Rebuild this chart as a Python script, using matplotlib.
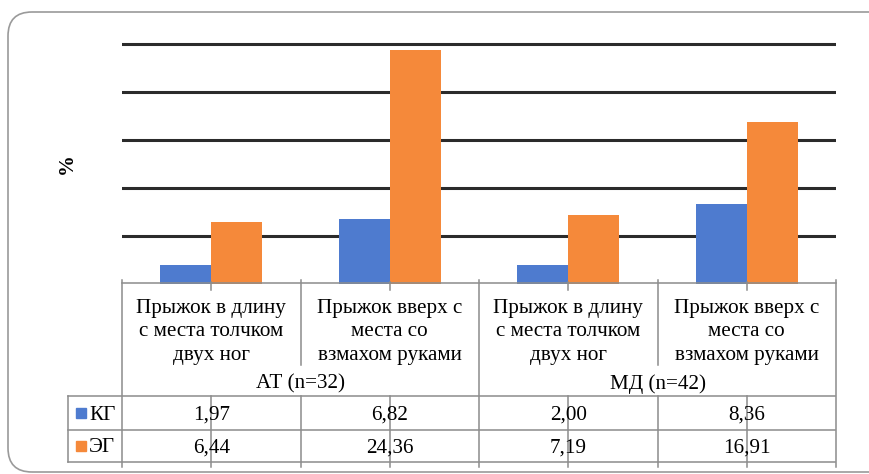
import numpy as np
import matplotlib.pyplot as plt
import matplotlib.transforms as mtransforms
from matplotlib.patches import FancyBboxPatch, Rectangle
from matplotlib.lines import Line2D

plt.rcParams['font.family'] = ['Liberation Serif', 'DejaVu Serif']

categories = ["Прыжок в длину\nс места толчком\nдвух ног",
              "Прыжок вверх с\nместа со\nвзмахом руками",
              "Прыжок в длину\nс места толчком\nдвух ног",
              "Прыжок вверх с\nместа со\nвзмахом руками"]
groups = ["АТ (n=32)", "МД (n=42)"]
series_names = ["КГ", "ЭГ"]
kg = [1.97, 6.82, 2.00, 8.36]
eg = [6.44, 24.36, 7.19, 16.91]
colors = ['#4E7BCF', '#F5893A']

W, H = 870, 474
fig = plt.figure(figsize=(W / 100, H / 100), dpi=100)


def fy(py):
    # pixel row from the top -> figure fraction
    return 1 - py / H


# plot area: 0 at y=284 px, 9.6 px per unit
y_top = 26
ax = fig.add_axes([122 / W, fy(284), 714 / W, 9.6 * y_top / H])
x = np.arange(len(categories))
bw = 0.285
ax.bar(x - bw / 2, kg, bw, color=colors[0], zorder=3)
ax.bar(x + bw / 2, eg, bw, color=colors[1], zorder=3)
ax.set_xlim(-0.5, 3.5)
ax.set_ylim(0, y_top)
ax.set_yticks([5, 10, 15, 20, 25])
ax.yaxis.grid(True, color='#2b2b2b', linewidth=2.2)
ax.set_axisbelow(True)
ax.tick_params(left=False, bottom=False, labelleft=False, labelbottom=False)
for s in ax.spines.values():
    s.set_visible(False)
ax.patch.set_alpha(0)

fig.text(67 / W, fy(164), "%", rotation=90, fontsize=15, fontweight='bold',
         ha='center', va='center')

# data table under the chart
trans = mtransforms.blended_transform_factory(ax.transData, fig.transFigure)
tc = '#8c8c8c'


def vline(xv, y0, y1, t=trans):
    fig.add_artist(Line2D([xv, xv], [fy(y0), fy(y1)], transform=t, color=tc, lw=1.1))


def hline(x0, x1, yv, t=trans):
    fig.add_artist(Line2D([x0, x1], [fy(yv), fy(yv)], transform=t, color=tc, lw=1.1))


left = -0.5
right = len(categories) - 0.5
hline(left, right, 283)
for yv in (396, 430, 462):
    fig.add_artist(Line2D([68 / W, 835 / W], [fy(yv), fy(yv)],
                          transform=fig.transFigure, color=tc, lw=1.1))
vline(68 / W, 396, 462, t=fig.transFigure)
vline(left, 280, 467)
vline(right, 280, 467)
vline(1.5, 280, 467)
for xb in (0.5, 2.5):
    vline(xb, 280, 365)
    vline(xb, 396, 467)
for xc in x:
    vline(xc, 282, 290)
    vline(xc, 396, 467)

fs = 15.2
for i, cat in enumerate(categories):
    fig.text(i, fy(332), cat, transform=trans, ha='center', va='center',
             fontsize=fs, linespacing=1.3)
for g, name in enumerate(groups):
    fig.text(2 * g + 0.5, fy(384), name, transform=trans, ha='center',
             va='center', fontsize=fs)

for r, (name, vals) in enumerate(zip(series_names, [kg, eg])):
    yc = 415 + r * 33
    fig.add_artist(Rectangle((76 / W, fy(yc + 3)), 10 / W, 10 / H,
                             transform=fig.transFigure, color=colors[r]))
    fig.text(89 / W, fy(yc), name, ha='left', va='center', fontsize=fs)
    for i, v in enumerate(vals):
        fig.text(i, fy(yc), f"{v:.2f}".replace('.', ','), transform=trans,
                 ha='center', va='center', fontsize=fs)

# rounded chart border
fig.add_artist(FancyBboxPatch((8, 2), 885, 460,
                              boxstyle='round,pad=0,rounding_size=24',
                              transform=None, fc='none', ec='#9a9a9a', lw=1.2))

fig.savefig('out.png', dpi=100, facecolor='white')
